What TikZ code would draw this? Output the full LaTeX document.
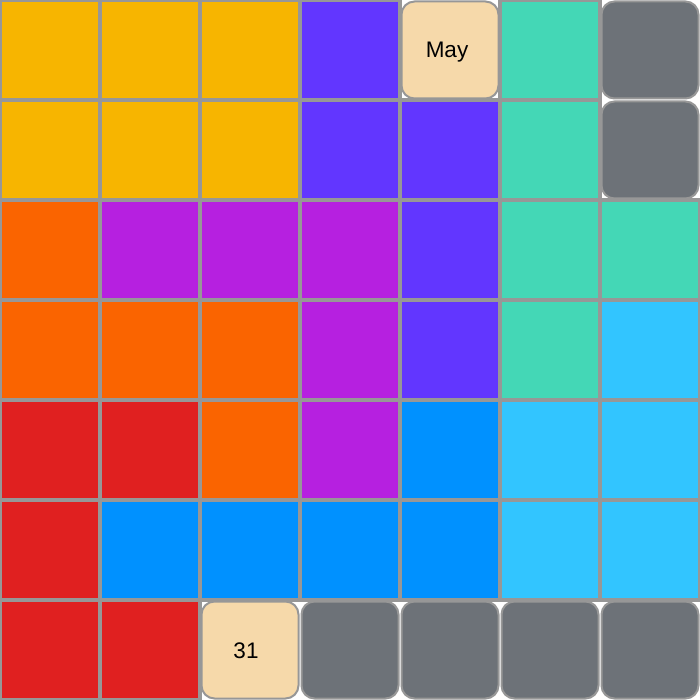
\documentclass[tikz,border=0pt]{standalone}
\usepackage{fontspec}
\setmainfont{Liberation Sans}
\definecolor{cY}{HTML}{F7B500}
\definecolor{cP}{HTML}{6236FF}
\definecolor{cT}{HTML}{44D7B6}
\definecolor{cG}{HTML}{6D7278}
\definecolor{cM}{HTML}{F6D9AA}
\definecolor{cO}{HTML}{FA6400}
\definecolor{cV}{HTML}{B620E0}
\definecolor{cR}{HTML}{E02020}
\definecolor{cB}{HTML}{0091FF}
\definecolor{cL}{HTML}{32C5FF}
\definecolor{cLine}{HTML}{979797}
\tikzset{
  sqcell/.style={draw=cLine, line width=4pt, fill=#1},
  rdcell/.style={draw=cLine, line width=2pt, fill=#1, rounded corners=13pt},
  label/.style={anchor=base, inner sep=0pt, font=\fontsize{22.5}{26}\selectfont},
}
\begin{document}
\begin{tikzpicture}[x=1pt,y=-1pt]
\useasboundingbox (0,0) rectangle (700,700);
\clip (0,0) rectangle (700,700);
\fill[white] (0,0) rectangle (700,700);
% square cells: row, col, colour
\foreach \r/\c/\col in {
 0/0/cY,0/1/cY,0/2/cY,0/3/cP,0/5/cT,
 1/0/cY,1/1/cY,1/2/cY,1/3/cP,1/4/cP,1/5/cT,
 2/0/cO,2/1/cV,2/2/cV,2/3/cV,2/4/cP,2/5/cT,2/6/cT,
 3/0/cO,3/1/cO,3/2/cO,3/3/cV,3/4/cP,3/5/cT,3/6/cL,
 4/0/cR,4/1/cR,4/2/cO,4/3/cV,4/4/cB,4/5/cL,4/6/cL,
 5/0/cR,5/1/cB,5/2/cB,5/3/cB,5/4/cB,5/5/cL,5/6/cL,
 6/0/cR,6/1/cR}
 {\draw[sqcell=\col] (\c*100,\r*100) rectangle ++(100,100);}
% rounded board cells
\foreach \r/\c/\col in {0/6/cG,1/6/cG,6/3/cG,6/4/cG,6/5/cG,6/6/cG}
 {\draw[rdcell=\col] (\c*100+1.5,\r*100+1.5) rectangle ++(97,97);}
\draw[rdcell=cM] (401.5,1.5) rectangle (498.5,98.5);
\node[label] (may) at (447,58) {May};
\draw[rdcell=cM] (201.5,601.5) rectangle (298.5,698.5);
\node[label] (d31) at (246,658) {31};
\end{tikzpicture}
\end{document}
